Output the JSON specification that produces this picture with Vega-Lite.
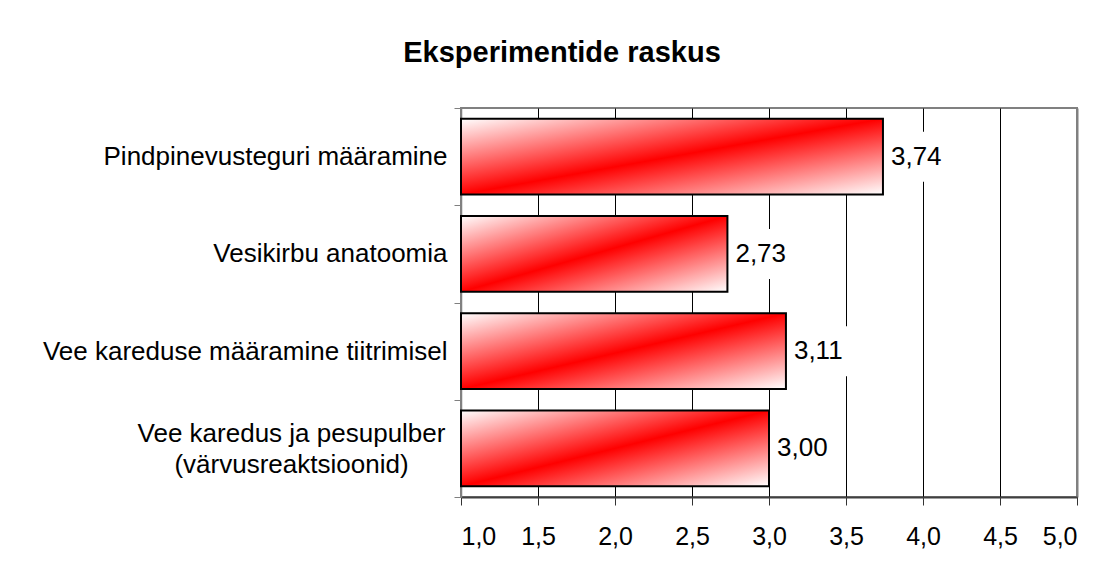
{
  "$schema": "https://vega.github.io/schema/vega-lite/v6.json",
  "width": 616,
  "height": 389,
  "autosize": {"type": "none"},
  "padding": {"left": 461, "top": 108, "right": 27, "bottom": 78},
  "background": "white",
  "title": {
    "text": "Eksperimentide raskus",
    "font": "Liberation Sans",
    "fontSize": 29,
    "fontWeight": "bold",
    "color": "black",
    "anchor": "middle",
    "frame": "group",
    "dx": -207,
    "baseline": "alphabetic",
    "offset": 4
  },
  "data": {
    "values": [
      {"experiment": "Pindpinevusteguri määramine", "value": 3.74},
      {"experiment": "Vesikirbu anatoomia", "value": 2.73},
      {"experiment": "Vee kareduse määramine tiitrimisel", "value": 3.11},
      {"experiment": "Vee karedus ja pesupulber|(värvusreaktsioonid)", "value": 3.0}
    ]
  },
  "encoding": {
    "y": {
      "field": "experiment",
      "type": "nominal",
      "sort": null,
      "scale": {"paddingInner": 0, "paddingOuter": 0},
      "axis": {
        "title": null,
        "labelExpr": "isString(datum.value) ? split(datum.value, '|') : ''",
        "labelFont": "Liberation Sans",
        "labelFontSize": 26,
        "labelColor": "black",
        "labelLineHeight": 31,
        "labelLimit": 500,
        "labelAlign": {"condition": {"test": "isString(datum.value) && indexof(datum.value, '|') >= 0", "value": "center"}, "value": "right"},
        "labelPadding": {"condition": {"test": "isString(datum.value) && indexof(datum.value, '|') >= 0", "value": 163}, "value": 7},
        "labelOffset": {"condition": {"test": "isString(datum.value) && indexof(datum.value, '|') >= 0", "value": -15}, "value": 0},
        "tickBand": "extent",
        "tickSize": 7,
        "tickColor": "#808080",
        "domainColor": "#808080",
        "domainWidth": 1.5,
        "grid": false
      }
    },
    "x": {
      "field": "value",
      "type": "quantitative",
      "scale": {"domain": [1, 5], "nice": false, "zero": false},
      "axis": {
        "title": null,
        "values": [1, 1.5, 2, 2.5, 3, 3.5, 4, 4.5, 5],
        "format": ".1f",
        "labelFont": "Liberation Sans",
        "labelFontSize": 25,
        "labelColor": "black",
        "labelPadding": 19,
        "tickSize": 8,
        "tickColor": "#333333",
        "domainColor": "#404040",
        "domainWidth": 2,
        "grid": true,
        "gridColor": {"condition": {"test": "datum.value == 1 || datum.value == 5", "value": "#808080"}, "value": "black"},
        "gridWidth": {"condition": {"test": "datum.value == 5", "value": 2}, "value": 1},
        "gridOpacity": 1
      }
    }
  },
  "layer": [
    {
      "mark": {
        "type": "bar",
        "height": {"band": 0.78},
        "stroke": "black",
        "strokeWidth": 2,
        "fill": {
          "gradient": "linear",
          "x1": 0, "y1": 0, "x2": 1, "y2": 1,
          "stops": [
            {"offset": 0, "color": "white"},
            {"offset": 0.5, "color": "red"},
            {"offset": 1, "color": "white"}
          ]
        }
      },
      "encoding": {
        "x2": {"datum": 1}
      }
    },
    {
      "mark": {
        "type": "point",
        "shape": "M0.12,-1H2.5V1H0.12Z",
        "size": 2500,
        "filled": true,
        "fill": "white",
        "opacity": 1,
        "strokeWidth": 0
      },
      "encoding": {}
    },
    {
      "mark": {
        "type": "text",
        "align": "left",
        "baseline": "middle",
        "dx": 8,
        "font": "Liberation Sans",
        "fontSize": 26,
        "color": "black"
      },
      "encoding": {
        "text": {"field": "value", "type": "quantitative", "format": ".2f"}
      }
    }
  ],
  "config": {
    "locale": {
      "number": {"decimal": ",", "thousands": " ", "grouping": [3], "currency": ["", " €"]}
    },
    "view": {"stroke": "#808080", "strokeWidth": 2}
  }
}
